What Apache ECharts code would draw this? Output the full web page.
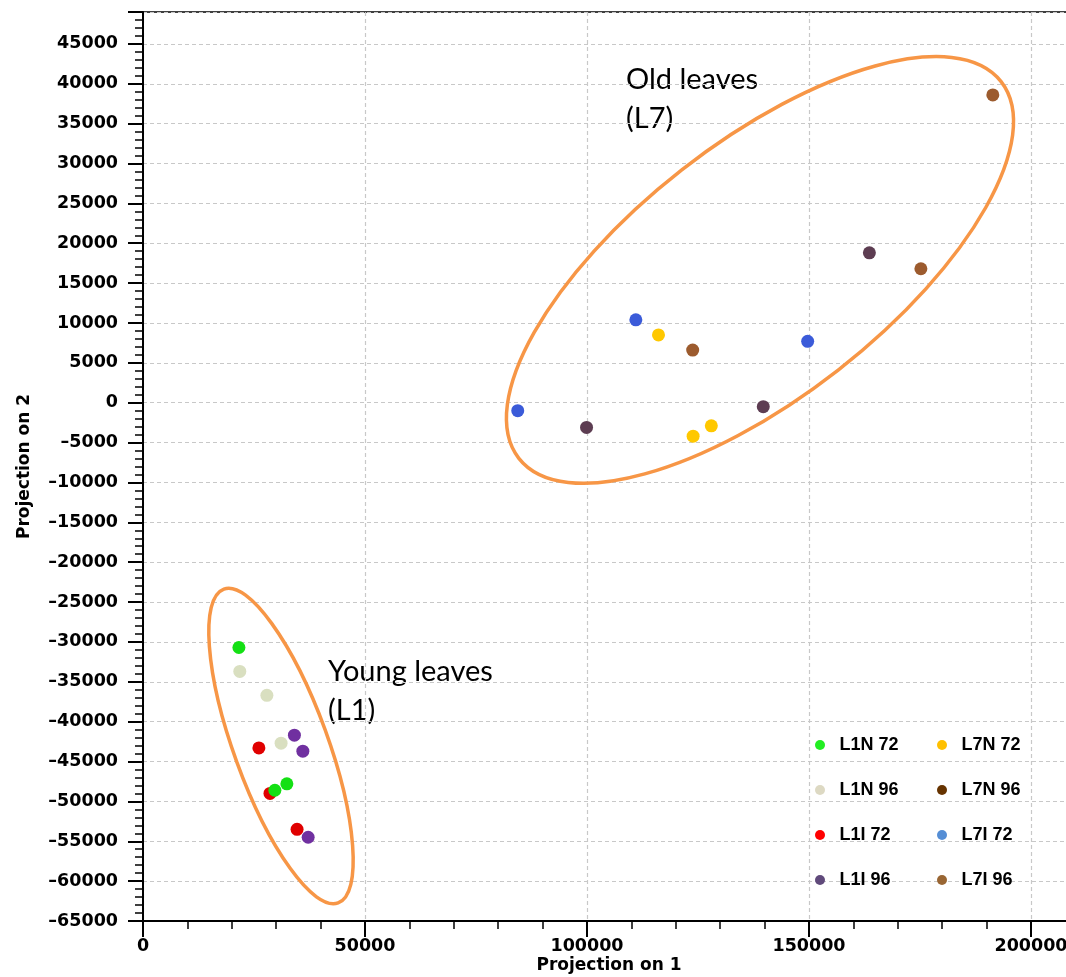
<!DOCTYPE html>
<html lang="en">
<head>
<meta charset="UTF-8">
<title>Projection</title>
<script src="https://cdn.jsdelivr.net/npm/echarts/dist/echarts.min.js"></script>
<style>
    html, body { margin: 0; padding: 0; background: #fff; }
    #chart { width: 1066px; height: 977px; }
</style>
</head>
<body>
<div id="chart"></div>
<script>
    // point values [projection 1, projection 2]
    var l1n72 = [[21600, -30700], [32400, -47800], [29700, -48600]];
    var l1n96 = [[21800, -33700], [27900, -36700], [31100, -42700]];
    var l1i72 = [[26100, -43300], [28600, -49000], [34700, -53500]];
    var l1i96 = [[34100, -41700], [36000, -43700], [37200, -54500]];
    var l7n72 = [[116100, 8500], [123900, -4200], [128000, -2900]];
    var l7n96 = [[99900, -3100], [139700, -500], [163600, 18800]];
    var l7i72 = [[84400, -1000], [111000, 10400], [149700, 7700]];
    var l7i96 = [[123800, 6600], [175200, 16800], [191400, 38600]];

    var legendLeft = ['L1N 72', 'L1N 96', 'L1I 72', 'L1I 96'];
    var legendRight = ['L7N 72', 'L7N 96', 'L7I 72', 'L7I 96'];

    // group outlines: centre in data units
    var groupCentres = [[138960, 16650], [31080, -43050]];
    var groupShapes = [{ rx: 306, ry: 127, rot: 38 }, { rx: 167, ry: 47, rot: -70 }];

    var pointColor = {
        'L1N 72': '#14e014', 'L1N 96': '#d9dfc0', 'L1I 72': '#e00000', 'L1I 96': '#7030a0',
        'L7N 72': '#ffc800', 'L7N 96': '#5d3d52', 'L7I 72': '#3b5bd9', 'L7I 96': '#9c5b2e'
    };
    var legendColor = {
        'L1N 72': '#22ee22', 'L1N 96': '#ddd9c3', 'L1I 72': '#ff0000', 'L1I 96': '#604a7b',
        'L7N 72': '#ffc000', 'L7N 96': '#663300', 'L7I 72': '#558ed5', 'L7I 96': '#996633'
    };

    var chart = echarts.init(document.getElementById('chart'));

    function scatter(name, data) {
        return {
            name: name,
            type: 'scatter',
            data: data,
            symbolSize: 13,
            itemStyle: { color: pointColor[name], opacity: 1 },
            emphasis: { disabled: true },
            z: 3
        };
    }

    function legendBlock(names, left) {
        return {
            orient: 'vertical',
            left: left,
            top: 731,
            itemWidth: 29,
            itemHeight: 10,
            itemGap: 27,
            icon: 'circle',
            selectedMode: false,
            textStyle: { fontFamily: 'Liberation Sans', fontWeight: 'bold', fontSize: 18, color: '#000' },
            data: names.map(function (n) {
                return { name: n, itemStyle: { color: legendColor[n] } };
            })
        };
    }

    function num(v) {
        return v < 0 ? '\u2013' + Math.abs(v) : String(v);
    }

    var labelFont = { fontFamily: 'DejaVu Sans', fontWeight: 'bold', fontSize: 17.5, color: '#000' };
    var dashed = { show: true, lineStyle: { color: '#c8c8c8', width: 1.2, type: [4, 3] } };

    var option = {
        animation: false,
        backgroundColor: '#fff',
        grid: {
            left: 143, top: 12, bottom: 56, right: -187,
            outerBoundsMode: 'none',
            containLabel: false,
            show: true, borderColor: '#000', borderWidth: 1.5, backgroundColor: 'transparent'
        },
        xAxis: {
            type: 'value',
            min: 0, max: 250000, interval: 50000,
            axisLine: { onZero: false, lineStyle: { color: '#000', width: 2 } },
            axisTick: { length: 16, lineStyle: { color: '#000', width: 2 } },
            minorTick: { show: true, splitNumber: 5, length: 8, lineStyle: { color: '#000', width: 1.5 } },
            axisLabel: Object.assign({ margin: 16, formatter: num }, labelFont),
            splitLine: dashed
        },
        yAxis: {
            type: 'value',
            min: -65000, max: 49000, interval: 5000,
            name: 'Projection on 2',
            nameLocation: 'middle',
            nameGap: 110,
            nameTextStyle: { fontFamily: 'DejaVu Sans', fontWeight: 'bold', fontSize: 17, color: '#000' },
            axisLine: { onZero: false, lineStyle: { color: '#000', width: 2 } },
            axisTick: { length: 15, lineStyle: { color: '#000', width: 2 } },
            minorTick: { show: true, splitNumber: 5, length: 8, lineStyle: { color: '#000', width: 1.5 } },
            axisLabel: Object.assign({
                margin: 25,
                formatter: function (v) {
                    return v % 5000 !== 0 ? '' : num(v);
                }
            }, labelFont),
            splitLine: dashed
        },
        legend: [legendBlock(legendLeft, 810), legendBlock(legendRight, 932)],
        graphic: [
            { type: 'text', x: 609, y: 966, style: { text: 'Projection on 1', font: 'bold 17px "DejaVu Sans"', fill: '#000', align: 'center', verticalAlign: 'middle', textAlign: 'center', textVerticalAlign: 'middle' } },
            { type: 'text', x: 626, y: 80, style: { text: 'Old leaves', font: '29px Lato', fill: '#000', align: 'left', verticalAlign: 'middle', textAlign: 'left', textVerticalAlign: 'middle' } },
            { type: 'text', x: 626, y: 119, style: { text: '(L7)', font: '29px Lato', fill: '#000', align: 'left', verticalAlign: 'middle', textAlign: 'left', textVerticalAlign: 'middle' } },
            { type: 'text', x: 328, y: 672, style: { text: 'Young leaves', font: '29px Lato', fill: '#000', align: 'left', verticalAlign: 'middle', textAlign: 'left', textVerticalAlign: 'middle' } },
            { type: 'text', x: 328, y: 711, style: { text: '(L1)', font: '29px Lato', fill: '#000', align: 'left', verticalAlign: 'middle', textAlign: 'left', textVerticalAlign: 'middle' } }
        ],
        series: [
            {
                type: 'custom',
                data: groupCentres,
                silent: true,
                z: 2,
                renderItem: function (params, api) {
                    var p = api.coord([api.value(0), api.value(1)]);
                    var s = groupShapes[params.dataIndex];
                    return {
                        type: 'ellipse',
                        x: p[0], y: p[1],
                        rotation: s.rot * Math.PI / 180,
                        shape: { cx: 0, cy: 0, rx: s.rx, ry: s.ry },
                        style: { fill: 'none', stroke: '#f79646', lineWidth: 3.5 }
                    };
                }
            },
            scatter('L1I 72', l1i72),
            scatter('L1N 96', l1n96),
            scatter('L1N 72', l1n72),
            scatter('L1I 96', l1i96),
            scatter('L7N 72', l7n72),
            scatter('L7N 96', l7n96),
            scatter('L7I 72', l7i72),
            scatter('L7I 96', l7i96)
        ]
    };
    chart.setOption(option);
</script>
</body>
</html>
